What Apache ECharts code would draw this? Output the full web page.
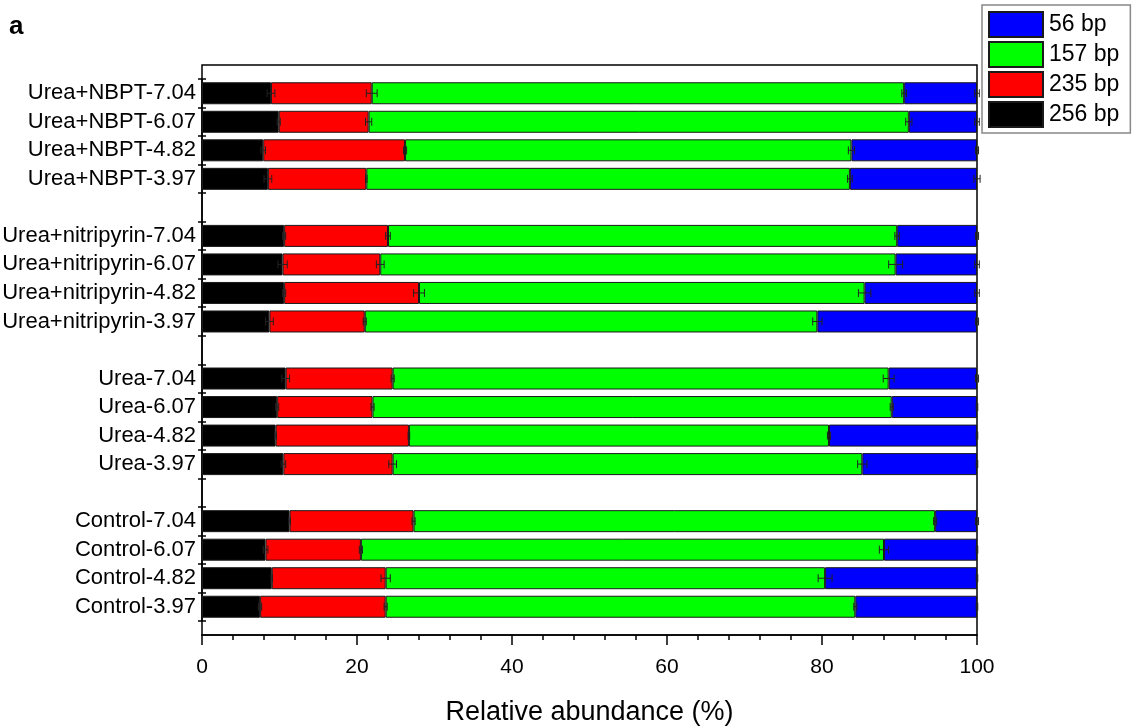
<!DOCTYPE html>
<html>
<head>
<meta charset="utf-8">
<script src="https://cdn.jsdelivr.net/npm/echarts@6/dist/echarts.min.js"></script>
<style>
  html, body { margin: 0; padding: 0; background: #fff; }
  #chart { width: 1134px; height: 727px; }
</style>
</head>
<body>
<div id="chart"></div>
<script>
// Treatments (bottom group first) and soil pH levels within each group
const treatments = ['Control', 'Urea', 'Urea+nitripyrin', 'Urea+NBPT'];
const pHLevels = ['3.97', '4.82', '6.07', '7.04'];

// Fragment sizes, stacked left to right
const seriesNames = ['256 bp', '235 bp', '157 bp', '56 bp'];
const legendOrder = ['56 bp', '157 bp', '235 bp', '256 bp'];
const seriesColors = ['#000000', '#ff0000', '#00ff00', '#0000ff'];

// Relative abundance (%) per row, order: Control-3.97 ... Urea+NBPT-7.04
const bp256 = [7.5, 9.0, 8.2, 11.3, 10.5, 9.5, 9.7, 10.8, 8.7, 10.6, 10.4, 10.6, 8.5, 7.9, 9.9, 8.9];
const bp235 = [16.2, 14.7, 12.3, 16.0, 14.1, 17.2, 12.3, 13.8, 12.3, 17.4, 12.6, 13.4, 12.7, 18.3, 11.6, 13.0];
const bp157 = [60.6, 56.7, 67.5, 67.3, 60.6, 54.2, 67.0, 64.0, 58.4, 57.5, 66.5, 65.7, 62.4, 57.6, 69.7, 68.7];
const bp56  = [15.7, 19.6, 12.0, 5.4, 14.8, 19.1, 11.0, 11.4, 20.6, 14.5, 10.5, 10.3, 16.4, 16.2, 8.8, 9.4];

// Standard errors (%) per row
const err256 = [0.2, 0.1, 0.3, 0.1, 0.3, 0.1, 0.2, 0.5, 0.5, 0.2, 0.6, 0.2, 0.5, 0.3, 0.2, 0.5];
const err235 = [0.2, 0.6, 0.2, 0.2, 0.5, 0.1, 0.2, 0.2, 0.2, 0.7, 0.5, 0.3, 0.1, 0.2, 0.4, 0.7];
const err157 = [0.2, 0.9, 0.6, 0.2, 0.6, 0.2, 0.2, 0.7, 0.6, 0.8, 0.9, 0.3, 0.3, 0.4, 0.4, 0.3];
const err56  = [0.1, 0.1, 0.1, 0.2, 0.1, 0.1, 0.1, 0.2, 0.2, 0.3, 0.3, 0.2, 0.4, 0.2, 0.3, 0.3];

// x axis: relative abundance
const xMin = 0, xMax = 100, xInterval = 20;

// Build the category list with an empty slot between treatment groups
const categories = [];
const rowSlot = [];
treatments.forEach((t, g) => {
  if (g > 0) categories.push(' '.repeat(g));
  pHLevels.forEach(p => {
    rowSlot.push(categories.length);
    categories.push(t + '-' + p);
  });
});

function toSlots(values) {
  const out = categories.map(() => '-');
  values.forEach((v, i) => { out[rowSlot[i]] = v; });
  return out;
}

const segments = [bp256, bp235, bp157, bp56];
const errors = [err256, err235, err157, err56];

// Cumulative right-hand end of each segment, where its error bar sits
const ends = [];
segments.forEach((seg, s) => {
  ends.push(seg.map((v, i) => (s === 0 ? 0 : ends[s - 1][i]) + v));
});

const barSeries = segments.map((seg, s) => ({
  name: seriesNames[s],
  type: 'bar',
  stack: 'total',
  xAxisIndex: 0,
  yAxisIndex: 0,
  barWidth: 22,
  itemStyle: { color: seriesColors[s], borderColor: '#1a1a1a', borderWidth: 1 },
  emphasis: { disabled: true },
  data: toSlots(seg)
}));

const errorSeries = segments.map((seg, s) => ({
  type: 'custom',
  xAxisIndex: 0,
  yAxisIndex: 0,
  z: 5,
  silent: true,
  encode: { x: 0, y: 1 },
  data: ends[s].map((e, i) => [e, rowSlot[i], errors[s][i]]),
  renderItem(params, api) {
    const x = api.value(0), y = api.value(1), e = api.value(2);
    const lo = api.coord([x - e, y]);
    const hi = api.coord([x + e, y]);
    const cap = 4;
    const style = { stroke: '#222', lineWidth: 1 };
    return {
      type: 'group',
      children: [
        { type: 'line', shape: { x1: lo[0], y1: lo[1], x2: hi[0], y2: hi[1] }, style },
        { type: 'line', shape: { x1: lo[0], y1: lo[1] - cap, x2: lo[0], y2: lo[1] + cap }, style },
        { type: 'line', shape: { x1: hi[0], y1: hi[1] - cap, x2: hi[0], y2: hi[1] + cap }, style }
      ]
    };
  }
}));

const font = 'Liberation Sans, Arial, Helvetica, sans-serif';
const chart = echarts.init(document.getElementById('chart'), null, { renderer: 'canvas' });

chart.setOption({
  animation: false,
  backgroundColor: '#fff',
  title: {
    text: 'a',
    left: 9,
    top: 14,
    padding: 0,
    textStyle: { fontFamily: font, fontSize: 26, fontWeight: 'bold', color: '#000' }
  },
  legend: {
    data: legendOrder,
    orient: 'vertical',
    left: 982,
    top: 5,
    itemWidth: 54,
    itemHeight: 25,
    itemGap: 3,
    padding: [6, 11, 5, 6],
    borderColor: '#888',
    borderWidth: 1.5,
    icon: 'rect',
    selectedMode: false,
    textStyle: { fontFamily: font, fontSize: 23, color: '#000', padding: [0, 0, 0, 1] }
  },
  grid: [
    { left: 202, right: 157, top: 79, bottom: 106, containLabel: false, outerBoundsMode: 'none' },
    { left: 202, right: 157, top: 65, bottom: 92, containLabel: false, outerBoundsMode: 'none',
      show: true, borderColor: '#000', borderWidth: 1.5, backgroundColor: 'transparent' }
  ],
  xAxis: [
    { gridIndex: 0, type: 'value', min: xMin, max: xMax, show: false },
    {
      gridIndex: 1, type: 'value', min: xMin, max: xMax, interval: xInterval,
      name: 'Relative abundance (%)',
      nameLocation: 'middle',
      nameGap: 64,
      nameTextStyle: { fontFamily: font, fontSize: 27, color: '#000' },
      axisLine: { show: true, lineStyle: { color: '#000', width: 1.5 } },
      axisTick: { show: true, inside: false, length: 10, lineStyle: { color: '#000', width: 1.5 } },
      minorTick: { show: true, splitNumber: 5, length: 5, lineStyle: { color: '#000', width: 1.5 } },
      splitLine: { show: false },
      axisLabel: { fontFamily: font, fontSize: 21, color: '#000', margin: 22 }
    }
  ],
  yAxis: [
    {
      gridIndex: 0, type: 'category', data: categories,
      axisLine: { show: true, lineStyle: { color: '#000', width: 1.5 } },
      axisTick: { show: true, inside: false, length: 4, interval: 0, lineStyle: { color: '#000', width: 1.5 } },
      axisLabel: { interval: 0, fontFamily: font, fontSize: 22, color: '#000', margin: 6 },
      splitLine: { show: false }
    },
    {
      gridIndex: 0, type: 'category', data: categories, position: 'left',
      axisLine: { show: false },
      axisTick: { show: true, inside: true, length: 4, interval: 0, lineStyle: { color: '#000', width: 1.5 } },
      axisLabel: { show: false, interval: 0 },
      splitLine: { show: false }
    },
    { gridIndex: 1, type: 'value', min: 0, max: 1, show: false }
  ],
  series: barSeries.concat(errorSeries)
});
</script>
</body>
</html>
